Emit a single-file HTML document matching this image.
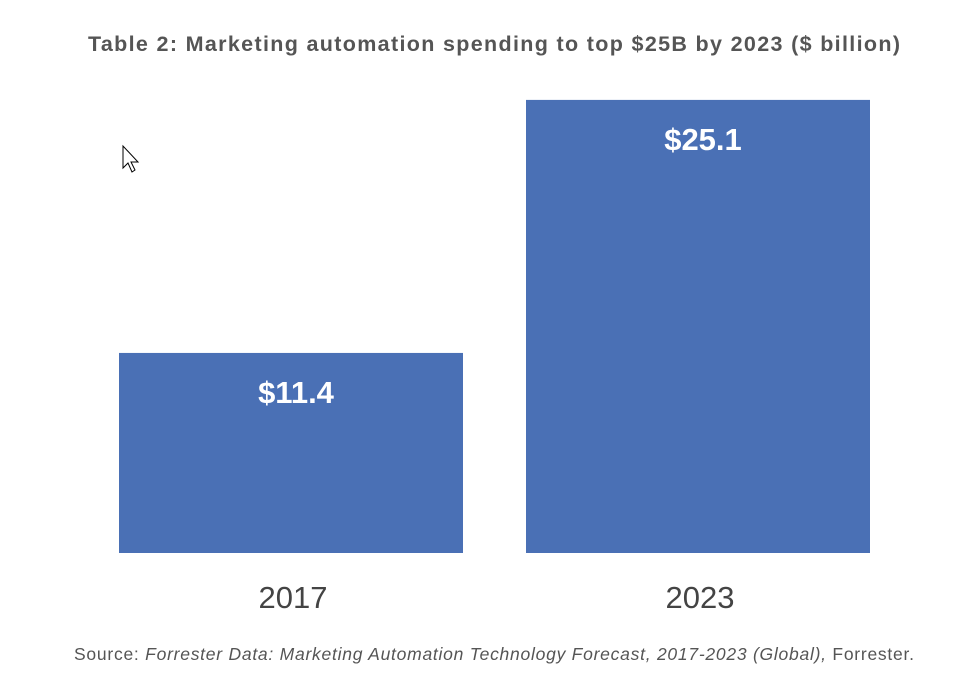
<!DOCTYPE html>
<html><head><meta charset="utf-8"><style>
body{margin:0;background:#fff;width:974px;height:693px;overflow:hidden;font-family:"Liberation Sans",sans-serif}
</style></head><body>
<svg width="974" height="693" xmlns="http://www.w3.org/2000/svg">
<text x="88" y="51" font-size="21.5" font-weight="bold" fill="#555" textLength="812" lengthAdjust="spacing">Table 2: Marketing automation spending to top $25B by 2023 ($ billion)</text>
<path d="M123,146 L123,168 L128,163 L132,172 L135,170 L131,162 L138,162 Z" fill="#fff" stroke="#000" stroke-width="1"/>
<g id="bars"></g>
<text x="74" y="660" font-size="17.5" fill="#555" textLength="840" lengthAdjust="spacing">Source: <tspan font-style="italic">Forrester Data: Marketing Automation Technology Forecast, 2017-2023 (Global),</tspan>  Forrester.</text>
</svg>
<script>
const categories=["2017","2023"];
const values=[11.4,25.1];
const valueLabels=["$11.4","$25.1"];
const NS="http://www.w3.org/2000/svg";
const g=document.getElementById('bars');
const baseY=553;
function yScale(v){return 563.5-18.47*v;}
function xScale(i){return 119+i*407;}
const bw=344;
categories.forEach((c,i)=>{
  const top=yScale(values[i]);
  const r=document.createElementNS(NS,'rect');
  r.setAttribute('x',xScale(i));r.setAttribute('y',top);
  r.setAttribute('width',bw);r.setAttribute('height',baseY-top);
  r.setAttribute('fill','#4a70b5');
  
  
  g.appendChild(r);
  const t=document.createElementNS(NS,'text');
  t.setAttribute('x',xScale(i)+bw/2+5);t.setAttribute('y',top+50);
  t.setAttribute('text-anchor','middle');t.setAttribute('font-size','31');
  t.setAttribute('font-weight','bold');t.setAttribute('fill','#fff');
  t.textContent=valueLabels[i];
  
  
  g.appendChild(t);
  const l=document.createElementNS(NS,'text');
  l.setAttribute('x',xScale(i)+bw/2+2);l.setAttribute('y',608);
  l.setAttribute('text-anchor','middle');l.setAttribute('font-size','31');
  l.setAttribute('fill','#444');
  l.textContent=c;
  
  
  g.appendChild(l);
});
</script>
</body></html>
